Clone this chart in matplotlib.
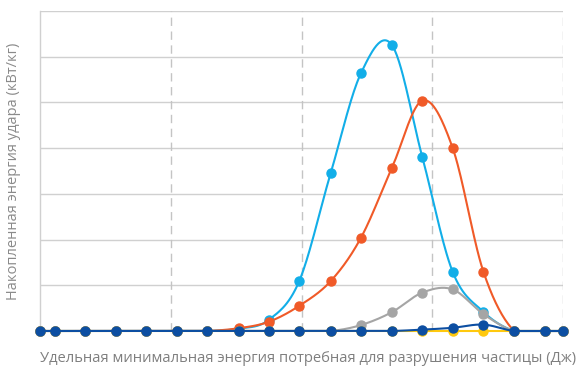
"""
Accumulated impact energy vs. specific breakage energy
"""

import matplotlib.pyplot as plt
import numpy as np

# specific minimum breakage energy, J (log axis)
energy = [0.001, 0.0013, 0.0022, 0.0038, 0.0065, 0.0112, 0.019, 0.033, 0.056,
          0.096, 0.167, 0.285, 0.49, 0.84, 1.43, 2.46, 4.24, 7.24, 10.0]

# accumulated impact energy per series, kW/kg
series_light_blue = [0, 0, 0, 0, 0, 0, 0, 0.05, 0.24, 1.09, 3.45, 5.64, 6.26,
                     3.80, 1.30, 0.42, 0, 0, 0]
series_orange = [0, 0, 0, 0, 0, 0, 0, 0.06, 0.20, 0.55, 1.09, 2.04, 3.56,
                 5.04, 4.01, 1.30, 0, 0, 0]
series_gray = [0, 0, 0, 0, 0, 0, 0, 0, 0, 0, 0, 0.13, 0.41, 0.84, 0.91, 0.37,
               0, 0, 0]
series_yellow = [0] * 19
series_dark_blue = [0, 0, 0, 0, 0, 0, 0, 0, 0, 0, 0, 0, 0.0, 0.03, 0.07, 0.14,
                    0, 0, 0]

colors = ['#12AEE8', '#F05A28', '#A5A5A5', '#FFC90E', '#0C4EA2']


def smooth(x, y, n=30):
    """
    Uniform Catmull-Rom curve through the points, in (log10 x, y) space
    :param x: x values
    :param y: y values
    :param n: samples per segment
    :return: smoothed x, y
    """
    u = np.log10(np.asarray(x, float))
    v = np.asarray(y, float)
    pu = np.concatenate([[u[0]], u, [u[-1]]])
    pv = np.concatenate([[v[0]], v, [v[-1]]])
    out_u, out_v = [], []
    t = np.linspace(0, 1, n, endpoint=False)
    for i in range(1, len(pu) - 2):
        for p, out in ((pu, out_u), (pv, out_v)):
            p0, p1, p2, p3 = p[i - 1], p[i], p[i + 1], p[i + 2]
            out.append(0.5 * ((2 * p1) + (-p0 + p2) * t
                              + (2 * p0 - 5 * p1 + 4 * p2 - p3) * t ** 2
                              + (-p0 + 3 * p1 - 3 * p2 + p3) * t ** 3))
    out_u.append([u[-1]])
    out_v.append([v[-1]])
    su = np.concatenate(out_u)
    sv = np.maximum(np.concatenate(out_v), 0)
    return 10 ** su, sv


fig = plt.figure(figsize=(5.8, 3.69), dpi=100)
ax = fig.add_axes([0.069, 0.103, 0.9017, 0.8672])

ax.set_xscale('log')
ax.set_xlim(0.001, 10)
ax.set_ylim(0, 7)

# grid: solid horizontal lines, dashed vertical lines at each decade
for yv in range(1, 8):
    ax.axhline(yv, color='#D0D0D0', lw=1.0, zorder=1)
for xv in [0.01, 0.1, 1, 10]:
    ax.axvline(xv, color='#C4C4C4', lw=1.0, ls=(0, (6, 4)), zorder=1)

for s in ['top', 'right', 'bottom']:
    ax.spines[s].set_visible(False)
ax.spines['left'].set_color('#D0D0D0')
ax.spines['left'].set_linewidth(1.0)

ax.set_xticks([])
ax.set_yticks([])
ax.minorticks_off()

all_series = [series_light_blue, series_orange, series_gray, series_yellow,
              series_dark_blue]
for k, (vals, c) in enumerate(zip(all_series, colors)):
    sx, sy = smooth(energy, vals)
    ax.plot(sx, sy, color=c, lw=1.5, zorder=3 + k, clip_on=False)
    ax.plot(energy, vals, 'o', color=c, ms=6.5, zorder=3 + k, clip_on=False)

ax.set_ylabel('Накопленная энергия удара (кВт/кг)', family='Open Sans',
              fontsize=10.5, color='#8A8A8A', labelpad=14)
ax.set_xlabel('Удельная минимальная энергия потребная для разрушения частицы (Дж)',
              family='Open Sans', fontsize=10.6, color='#7F7F7F')
ax.xaxis.set_label_coords(0.512, -0.062)

fig.savefig('out.png', dpi=100)
